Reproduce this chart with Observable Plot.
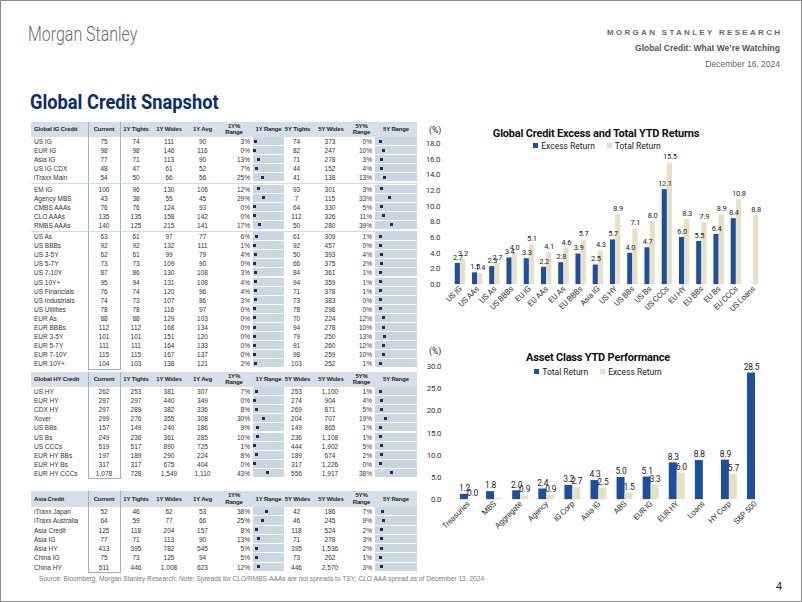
<!DOCTYPE html>
<html><head><meta charset="utf-8">
<script src="https://cdn.jsdelivr.net/npm/d3@7"></script>
<script src="https://cdn.jsdelivr.net/npm/@observablehq/plot@0.6"></script>
<style>
html,body{margin:0;padding:0;background:#fff;}
#page{position:relative;width:802px;height:602px;box-sizing:border-box;border:1px solid #8c8c8c;overflow:hidden;font-family:"Liberation Sans",Arial,sans-serif;}
.a{position:absolute;white-space:nowrap;}
.narrow{font-family:Roboto,"Liberation Sans",sans-serif;}
svg{overflow:visible;}
#c1 svg text, #c2 svg text{letter-spacing:-0.2px;}
</style></head><body>
<div id="page">
  <div class="a" style="left:27px;top:21px;font-family:Roboto,sans-serif;font-weight:300;font-size:21px;color:#6d6d6d;transform:scaleX(0.76);transform-origin:0 0;">Morgan Stanley</div>
  <div class="a" style="right:21px;top:27px;font-size:8px;color:#6a6a6a;letter-spacing:2.3px;font-weight:bold;margin-right:-2.3px;">MORGAN STANLEY RESEARCH</div>
  <div class="a" style="right:21px;top:42px;font-size:8.5px;color:#555;font-weight:bold;">Global Credit: What We’re Watching</div>
  <div class="a" style="right:21px;top:58px;font-size:8.5px;color:#666;">December 16, 2024</div>
  <div class="a" style="left:29px;top:89px;font-family:Roboto,sans-serif;font-size:20.5px;font-weight:bold;color:#0c2b6b;transform:scaleX(0.89);transform-origin:0 0;">Global Credit Snapshot</div>
  <div id="tables"></div>
  <div id="c1" class="a" style="left:415px;top:118px;"></div>
  <div id="c2" class="a" style="left:415px;top:340px;"></div>
  <div class="a narrow" style="left:428px;top:124px;font-size:8.5px;color:#222;">(%)</div>
  <div class="a narrow" style="left:428px;top:345px;font-size:8.5px;color:#222;">(%)</div>
  <div class="a narrow" style="left:415px;width:360px;top:126px;text-align:center;font-size:11px;font-weight:bold;color:#111;letter-spacing:-0.2px;">Global Credit Excess and Total YTD Returns</div>
  <div id="leg1" class="a narrow" style="left:415px;width:362px;top:140px;text-align:center;font-size:8.5px;color:#222;"></div>
  <div class="a narrow" style="left:415px;width:364px;top:350px;text-align:center;font-size:11px;font-weight:bold;color:#111;letter-spacing:-0.2px;">Asset Class YTD Performance</div>
  <div id="leg2" class="a narrow" style="left:415px;width:364px;top:366px;text-align:center;font-size:8.5px;color:#222;"></div>
  <div class="a" style="left:38px;top:574px;font-size:6.6px;color:#7a7a7a;">Source: Bloomberg, Morgan Stanley Research; Note: Spreads for CLO/RMBS-AAAs are not spreads to TSY; CLO AAA spread as of December 13, 2024</div>
  <div class="a" style="left:775px;top:579px;font-size:11px;color:#222;">4</div>
</div>
<script>
// ---------- Chart data ----------
const cats1 = ["US IG","US AAs","US As","US BBBs","EU IG","EU AAs","EU As","EU BBBs","Asia IG","US HY","US BBs","US Bs","US CCCs","EU HY","EU BBs","EU Bs","EU CCCs","US Loans"];
const excess1 = [2.7,1.5,2.3,3.4,3.3,2.2,2.8,3.9,2.5,5.7,4.0,4.7,12.1,6.0,5.5,6.4,8.4,null];
const total1  = [3.2,1.4,2.7,4.0,5.1,4.1,4.6,5.7,4.3,8.9,7.1,8.0,15.5,8.3,7.9,8.9,10.8,8.8];
const series1 = ["Excess Return","Total Return"];
const yTicks1 = [0,2,4,6,8,10,12,14,16,18];

const cats2 = ["Treasuries","MBS","Aggregate","Agency","IG Corp","Asia IG","ABS","EUR IG","EUR HY","Loans","HY Corp","S&P 500"];
const total2  = [1.2,1.8,2.0,2.4,3.2,4.3,5.0,5.1,8.3,8.8,8.9,28.5];
const excess2 = [0.0,0.3,0.9,0.9,2.7,2.5,1.5,3.3,6.0,null,5.7,null];
const excess2Labelled = [true,false,true,true,true,true,true,true,true,true,true,true];
const series2 = ["Total Return","Excess Return"];
const yTicks2 = [0,5,10,15,20,25,30];

// ---------- Table data ----------
const tableHeaders = {
  ig: ["Global IG Credit","Current","1Y Tights","1Y Wides","1Y Avg","1Y%|Range","1Y Range","5Y Tights","5Y Wides","5Y%|Range","5Y Range"],
  hy: ["Global HY Credit","Current","1Y Tights","1Y Wides","1Y Avg","1Y%|Range","1Y Range","5Y Wides","5Y Wides","5Y%|Range","5Y Range"],
  asia: ["Asia Credit","Current","1Y Tights","1Y Wides","1Y Avg","1Y%|Range","1Y Range","5Y Wides","5Y Wides","5Y%|Range","5Y Range"]
};
// name, current, 1Y tights, 1Y wides, 1Y avg, 1Y% range, 5Y tights, 5Y wides, 5Y% range
const igGroup1 = [
  ["US IG",75,74,111,90,3,74,373,0],
  ["EUR IG",98,98,146,116,0,82,247,10],
  ["Asia IG",77,71,113,90,13,71,278,3],
  ["US IG CDX",48,47,61,52,7,44,152,4],
  ["iTraxx Main",54,50,66,56,25,41,138,13]];
const igGroup2 = [
  ["EM IG",100,96,130,106,12,93,301,3],
  ["Agency MBS",43,38,55,45,29,7,115,33],
  ["CMBS AAAs",76,76,124,93,0,64,330,5],
  ["CLO AAAs",135,135,158,142,0,112,326,11],
  ["RMBS AAAs",140,125,215,141,17,50,280,39]];
const igGroup3 = [
  ["US As",63,61,97,77,6,61,309,1],
  ["US BBBs",92,92,132,111,1,92,457,0],
  ["US 3-5Y",62,61,99,79,4,50,393,4],
  ["US 5-7Y",73,73,109,90,0,66,375,2],
  ["US 7-10Y",87,86,130,108,3,84,361,1],
  ["US 10Y+",95,94,131,108,4,94,359,1],
  ["US Financials",76,74,120,96,4,71,378,1],
  ["US Industrials",74,73,107,86,3,73,383,0],
  ["US Utilities",78,78,116,97,0,78,298,0],
  ["EUR As",88,88,129,103,0,70,224,12],
  ["EUR BBBs",112,112,168,134,0,94,278,10],
  ["EUR 3-5Y",101,101,151,120,0,79,250,13],
  ["EUR 5-7Y",111,111,164,133,0,91,260,12],
  ["EUR 7-10Y",115,115,167,137,0,98,259,10],
  ["EUR 10Y+",104,103,138,121,2,103,252,1]];
const hyRows = [
  ["US HY",262,253,381,307,7,253,1100,1],
  ["EUR HY",297,297,440,349,0,274,904,4],
  ["CDX HY",297,289,382,336,8,269,871,5],
  ["Xover",299,276,355,308,30,204,707,19],
  ["US BBs",157,149,240,186,9,149,865,1],
  ["US Bs",249,236,361,285,10,236,1108,1],
  ["US CCCs",519,517,890,725,1,444,1902,5],
  ["EUR HY BBs",197,189,290,224,8,189,674,2],
  ["EUR HY Bs",317,317,675,404,0,317,1226,0],
  ["EUR HY CCCs",1078,728,1549,1110,43,556,1917,38]];
const asiaRows = [
  ["iTraxx Japan",52,46,62,53,38,42,186,7],
  ["iTraxx Australia",64,59,77,66,25,46,245,9],
  ["Asia Credit",125,118,204,157,8,118,524,2],
  ["Asia IG",77,71,113,90,13,71,278,3],
  ["Asia HY",413,395,782,545,5,395,1536,2],
  ["China IG",75,73,125,94,5,73,262,1],
  ["China HY",511,446,1008,623,12,446,2570,3]];

// ---------- Tables (HTML) ----------
const TL = 30, TR = 416;
const cols = [ // left, width, align
  [30,57,"left"],[87,32,"center"],[119,32,"center"],[151,34,"center"],[185,33,"center"],
  [214,36,"right"],[252,31,"range1"],[281,29,"center"],[313,32,"center"],[345,27,"right"],[374,42,"range5"]
];
const hdrCols = [[30,57,"left"],[87,32,"center"],[119,32,"center"],[151,34,"center"],[185,33,"center"],
  [214,38,"center"],[252,31,"center"],[282,29,"center"],[314,32,"center"],[347,27,"center"],[374,42,"center"]];
const fmt = d3.format(",");
const RANGE_BG = "#cad6e0", HDR_BG = "#d6dfe8", MARK = "#1b2d66", BOX = "#9fb3c7";
const tables = document.getElementById("tables");
function buildTable(key, top, hdrH, groups, rh, gap){
  const hdr = tableHeaders[key];
  let html = `<div class="a" style="left:${TL}px;top:${top}px;width:${TR-TL}px;height:${hdrH}px;background:${HDR_BG};"></div>`;
  hdr.forEach((h,i)=>{
    const [l,w,al]=hdrCols[i];
    const lines=h.split("|");
    const lh = 6.6;
    const ty = top + hdrH/2 - lines.length*lh/2;
    html += `<div class="a" style="left:${l+(al==='left'?3:0)}px;top:${ty}px;width:${w}px;text-align:${al};font-size:6px;letter-spacing:-0.15px;line-height:${lh}px;font-weight:bold;color:#1d1d1d;">${lines.join("<br>")}</div>`;
  });
  let y = top + hdrH;
  groups.forEach((g,gi)=>{
    if(gi>0){
      html += `<div class="a" style="left:${TL}px;top:${y+gap/2-0.5}px;width:${TR-TL}px;height:1px;background:#d2dae2;"></div>`;
      y += gap;
    }
    g.forEach(r=>{
      const vals=[r[0],fmt(r[1]),fmt(r[2]),fmt(r[3]),fmt(r[4]),r[5]+"%",r[5],fmt(r[6]),fmt(r[7]),r[8]+"%",r[8]];
      vals.forEach((v,i)=>{
        const [l,w,al]=cols[i];
        if(al==="range1"||al==="range5"){
          const off = al==="range1"?1:5, sc = al==="range1"?31:28;
          html += `<div class="a" style="left:${l}px;top:${y}px;width:${w}px;height:${rh-1}px;background:${RANGE_BG};"></div>`;
          html += `<div class="a" style="left:${l+off+v/100*sc-1}px;top:${y+rh/2-2}px;width:3px;height:3px;background:${MARK};"></div>`;
        } else {
          const pad = al==="left"?3:(al==="right"?1:0);
          html += `<div class="a" style="left:${l+(al==='left'?pad:0)}px;top:${y}px;width:${w-(al==='right'?pad:0)}px;height:${rh}px;line-height:${rh}px;text-align:${al};font-size:6.5px;color:#333;">${v}</div>`;
        }
      });
      y += rh;
    });
  });
  html += `<div class="a" style="left:87px;top:${top}px;width:31px;height:${y-top}px;border-left:1px solid ${BOX};border-right:1px solid ${BOX};border-bottom:1px solid ${BOX};"></div>`;
  tables.insertAdjacentHTML("beforeend", html);
}
buildTable("ig", 121, 15, [igGroup1, igGroup2, igGroup3], 9.1, 2);
buildTable("hy", 371, 15, [hyRows], 9.1, 0);
buildTable("asia", 490, 16, [asiaRows], 9.25, 0);

// ---------- Charts ----------
const BLUE = "#1d4f9e", BEIGE = "#e8e0c3";
const FONT = "Roboto,'Liberation Sans',sans-serif";

function legend(id, names, colors){
  document.getElementById(id).innerHTML = names.map((n,i)=>
    `<span style="display:inline-block;width:5px;height:5px;background:${colors[i]};margin-right:3px;vertical-align:1px;"></span>${n}`
  ).join('<span style="display:inline-block;width:12px"></span>');
}
legend("leg1", series1, [BLUE, BEIGE]);
legend("leg2", series2, [BLUE, BEIGE]);

function grouped(cats, first, second, labelled, cfg){
  const {W,H,mt,mb,ml,mr,pad,domain,ticks,tp,fs} = cfg;
  const n = cats.length;
  const step = (W-ml-mr)/(n - pad + 2*pad);
  const bw = step*(1-pad), half = bw/2;
  const d1 = cats.map((c,i)=>({cat:c, v:first[i]})).filter(d=>d.v!=null);
  const d2 = cats.map((c,i)=>({cat:c, v:second[i], lab: labelled? labelled[i]:true})).filter(d=>d.v!=null);
  return Plot.plot({
    width:W, height:H, marginTop:mt, marginBottom:mb, marginLeft:ml, marginRight:mr,
    style:{fontFamily:FONT, fontSize:"8px", color:"#333", background:"transparent", overflow:"visible"},
    x:{domain:cats, padding:pad, round:false, tickSize:0, tickRotate:-45, tickPadding:3, label:null},
    y:{domain, ticks, tickFormat:d=>d.toFixed(1), tickSize:0, tickPadding:tp, label:null},
    marks:[
      Plot.barY(d1, {x:"cat", y:"v", fill:BLUE, insetRight:half}),
      Plot.barY(d2, {x:"cat", y:"v", fill:BEIGE, insetLeft:half}),
      Plot.text(d1, {x:"cat", y:"v", text:d=>d.v.toFixed(1), dx:-half/2, dy:-6, fontSize:fs, fill:"#222"}),
      Plot.text(d2.filter(d=>d.lab), {x:"cat", y:"v", text:d=>d.v.toFixed(1), dx:half/2, dy:-6, fontSize:fs, fill:"#222"})
    ]
  });
}
document.getElementById("c1").appendChild(grouped(cats1, excess1, total1, null,
  {W:387,H:222,mt:24,mb:56,ml:32,mr:36,pad:0.4,domain:[0,18],ticks:yTicks1,tp:8,fs:7.5}));
document.getElementById("c2").appendChild(grouped(cats2, total2, excess2, excess2Labelled,
  {W:387,H:200,mt:25,mb:41,ml:34,mr:28,pad:0.39,domain:[0,30],ticks:yTicks2,tp:9,fs:8.5}));
</script>
</body></html>
